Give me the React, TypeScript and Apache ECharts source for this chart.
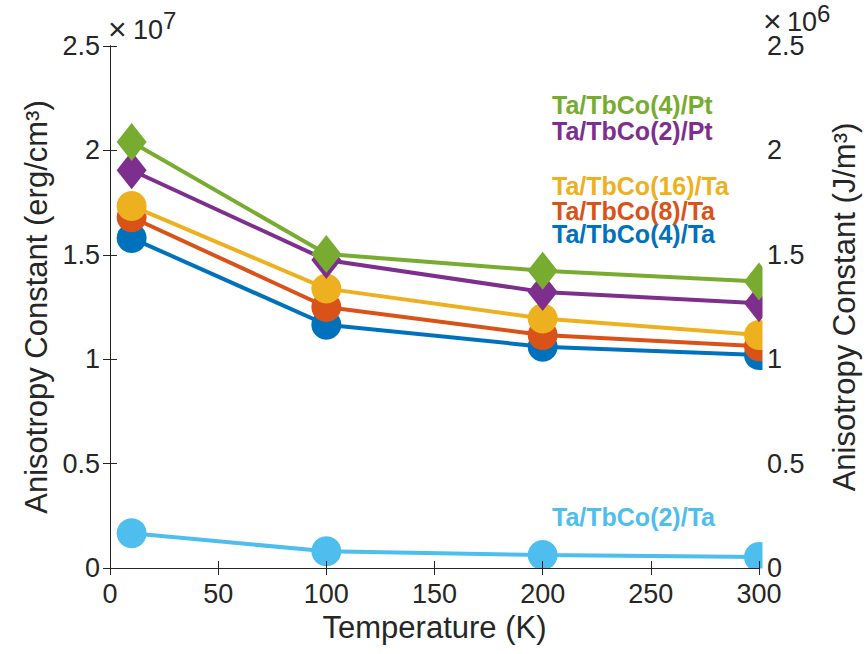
import React, { useEffect, useRef } from "react";
import * as echarts from "echarts";

const temperatures = [10, 100, 200, 300];
const xTicks = [0, 50, 100, 150, 200, 250, 300];
const yTicks = [0, 0.5, 1, 1.5, 2, 2.5];

const seriesNames = [
  "Ta/TbCo(4)/Ta",
  "Ta/TbCo(8)/Ta",
  "Ta/TbCo(16)/Ta",
  "Ta/TbCo(2)/Pt",
  "Ta/TbCo(4)/Pt",
  "Ta/TbCo(2)/Ta",
];
const tbco4Ta = [1.58, 1.165, 1.06, 1.02];
const tbco8Ta = [1.68, 1.25, 1.116, 1.062];
const tbco16Ta = [1.734, 1.338, 1.195, 1.116];
const tbco2Pt = [1.905, 1.475, 1.322, 1.268];
const tbco4Pt = [2.04, 1.504, 1.424, 1.372];
const tbco2Ta = [0.166, 0.08, 0.062, 0.053];

const seriesValues = [tbco4Ta, tbco8Ta, tbco16Ta, tbco2Pt, tbco4Pt, tbco2Ta];
const seriesColors = ["#0072BD", "#D95319", "#EDB120", "#7E2F8E", "#77AC30", "#4DBEEE"];
const seriesSymbols = ["circle", "circle", "circle", "diamond", "diamond", "circle"];

const FONT = "'Liberation Sans', Arial, Helvetica, sans-serif";
const AX = "#262626";

export default function App() {
  const ref = useRef<HTMLDivElement>(null);
  useEffect(() => {
    document.body.style.margin = "0";
    if (!ref.current) return;
    const chart = echarts.init(ref.current, undefined, { renderer: "svg" });

    const axisCommon = {
      axisLine: { show: true, lineStyle: { color: AX, width: 1 } },
      axisTick: { show: true, inside: true, length: 7, lineStyle: { color: AX } },
      splitLine: { show: false },
      z: 200,
    };

    const series = seriesValues.map((vals, i) => ({
      name: seriesNames[i],
      type: "line",
      data: temperatures.map((t, j) => [t, vals[j]]),
      symbol: seriesSymbols[i],
      symbolSize: seriesSymbols[i] === "diamond" ? [30, 38] : 30,
      showSymbol: true,
      lineStyle: { color: seriesColors[i], width: 4 },
      itemStyle: { color: seriesColors[i] },
      z: 2 + i,
      clip: false,
    }));

    const labelY = [234, 211, 186, 131, 105, 517];

    const labelGraphics = seriesNames.map((n, i) => ({
      type: "text",
      x: 552,
      y: labelY[i],
      z: 300,
      style: {
        text: n,
        fill: seriesColors[i],
        font: `bold 25px ${FONT}`,
        verticalAlign: "middle",
        align: "left",
      },
    }));

    const mid = (x: number, y: number, text: string, size: number) => ({
      type: "text",
      x,
      y,
      z: 300,
      style: { text, fill: AX, font: `${size}px ${FONT}`, verticalAlign: "middle", align: "left" },
    });

    chart.setOption({
      animation: false,
      backgroundColor: "#ffffff",
      grid: { left: 110, right: 106, top: 46, bottom: 86, containLabel: false },
      xAxis: [
        {
          ...axisCommon,
          type: "value",
          position: "bottom",
          min: 0,
          max: 300,
          interval: 50,
          name: "Temperature (K)",
          nameLocation: "middle",
          nameGap: 44,
          nameTextStyle: { fontFamily: FONT, fontSize: 31, color: AX },
          axisLabel: {
            fontFamily: FONT,
            fontSize: 27,
            color: AX,
            margin: 12,
            formatter: (v: number) => (xTicks.includes(v) ? String(v) : ""),
          },
        },
        {
          ...axisCommon,
          type: "value",
          position: "top",
          min: 0,
          max: 300,
          interval: 50,
          axisLabel: { show: false },
        },
      ],
      yAxis: [
        {
          ...axisCommon,
          type: "value",
          position: "left",
          min: 0,
          max: 2.5,
          interval: 0.5,
          name: "Anisotropy Constant (erg/cm³)",
          nameLocation: "middle",
          nameGap: 52,
          nameTextStyle: { fontFamily: FONT, fontSize: 31, color: AX },
          axisLabel: {
            fontFamily: FONT,
            fontSize: 27,
            color: AX,
            margin: 10,
            formatter: (v: number) => (yTicks.some((t) => Math.abs(t - v) < 1e-9) ? String(v) : ""),
          },
        },
        {
          ...axisCommon,
          type: "value",
          position: "right",
          min: 0,
          max: 2.5,
          interval: 0.5,
          name: "Anisotropy Constant (J/m³)",
          nameLocation: "middle",
          nameGap: 70,
          nameRotate: 90,
          nameTextStyle: { fontFamily: FONT, fontSize: 31, color: AX, verticalAlign: "top" },
          axisLabel: {
            fontFamily: FONT,
            fontSize: 27,
            color: AX,
            margin: 8,
            formatter: (v: number) => (yTicks.some((t) => Math.abs(t - v) < 1e-9) ? String(v) : ""),
          },
        },
      ],
      series,
      graphic: [
        { type: "rect", shape: { x: 762.5, y: 30, width: 30, height: 560 }, style: { fill: "#ffffff" }, z: 150, silent: true },
        { type: "rect", shape: { x: 100, y: 568.5, width: 680, height: 10 }, style: { fill: "#ffffff" }, z: 150, silent: true },
        mid(108, 29, "×", 32),
        mid(133, 30, "10", 27),
        mid(163, 20, "7", 24),
        mid(763, 21, "×", 32),
        mid(787, 22, "10", 27),
        mid(817, 13, "6", 24),
        ...labelGraphics,
      ],
    });
    return () => chart.dispose();
  }, []);
  return <div ref={ref} style={{ width: 868, height: 654 }} />;
}
